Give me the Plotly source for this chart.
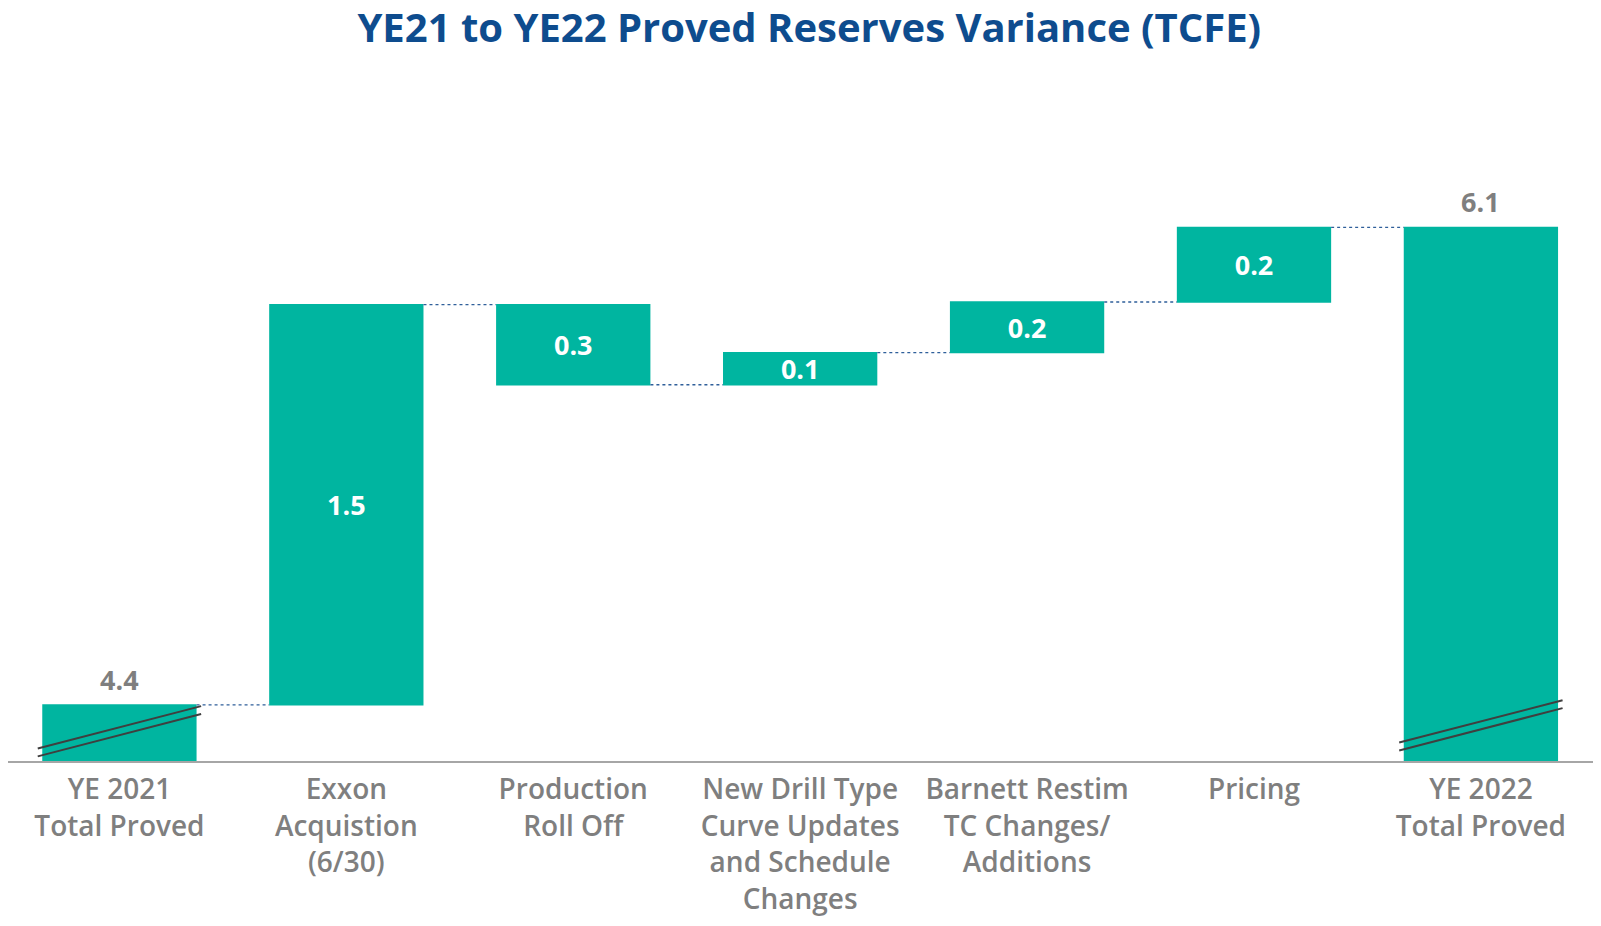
import plotly.graph_objects as go

categories = [
    "YE 2021<br>Total Proved",
    "Exxon<br>Acquistion<br>(6/30)",
    "Production<br>Roll Off",
    "New Drill Type<br>Curve Updates<br>and Schedule<br>Changes",
    "Barnett Restim<br>TC Changes/<br>Additions",
    "Pricing",
    "YE 2022<br>Total Proved",
]
measures = ["absolute", "relative", "relative", "relative", "relative", "relative", "total"]
values = [4.4, 1.50, -0.30, 0.12, 0.19, 0.28, 0]
value_labels = ["4.4", "1.5", "0.3", "0.1", "0.2", "0.2", "6.1"]

TEAL = "#00B5A0"
GRAY = "#7F7F7F"
BLUE = "#0E4C8E"
FONT = "Open Sans"

# inside labels for the changes, totals labelled above the bar via annotations
inside_text = [t if m == "relative" else "" for t, m in zip(value_labels, measures)]

fig = go.Figure()
fig.add_trace(go.Waterfall(
    x=categories,
    y=values,
    measure=measures,
    text=inside_text,
    textposition="inside",
    insidetextfont=dict(color="white", size=27, family=FONT, weight="bold"),
    constraintext="none",
    insidetextanchor="middle",
    width=0.68,
    increasing=dict(marker=dict(color=TEAL, line=dict(width=0))),
    decreasing=dict(marker=dict(color=TEAL, line=dict(width=0))),
    totals=dict(marker=dict(color=TEAL, line=dict(width=0))),
    connector=dict(mode="between", line=dict(color="#2F5F9A", width=1.3, dash="dot")),
    hoverinfo="x+y",
    showlegend=False,
))

# running totals for the total-bar labels
running = 0.0
annotations = []
for i, (m, v) in enumerate(zip(measures, values)):
    if m == "absolute":
        running = v
    elif m == "relative":
        running += v
    if m in ("absolute", "total"):
        annotations.append(dict(
            x=categories[i], y=running, xref="x", yref="y",
            text=value_labels[i], showarrow=False,
            yanchor="bottom", yshift=5,
            font=dict(family=FONT, size=27, color=GRAY, weight="bold"),
        ))

# axis-break slashes on the two total bars
def slash_pair(idx, y_lo, y_hi, gap):
    out = []
    for k in range(2):
        out.append(dict(
            type="line", xref="x", yref="y domain",
            x0=idx - 0.36, x1=idx + 0.36,
            y0=y_lo + k * gap, y1=y_hi + k * gap,
            line=dict(color="#3F3F3F", width=2),
        ))
    return out

shapes = slash_pair(0, 0.007, 0.071, 0.012) + slash_pair(len(categories) - 1, 0.016, 0.080, 0.012)

fig.update_layout(
    width=1593, height=918,
    paper_bgcolor="white", plot_bgcolor="white",
    margin=dict(l=0, r=8, t=92, b=165),
    font=dict(family=FONT, color=GRAY),
    title=dict(
        text="YE21 to YE22 Proved Reserves Variance (TCFE)",
        x=0.503, xanchor="center", y=0.978, yanchor="middle",
        font=dict(family=FONT, size=40, color=BLUE, weight="bold"),
    ),
    xaxis=dict(
        showline=True, linecolor="#A6A6A6", linewidth=1.5,
        showgrid=False, zeroline=False, ticks="",
        tickfont=dict(family=FONT, size=28, color=GRAY, weight=600),
        ticklabelstandoff=3,
        range=[-0.491, 6.494], automargin=False,
    ),
    yaxis=dict(
        range=[4.19, 6.667], showgrid=False, zeroline=False,
        showticklabels=False, showline=False, ticks="", automargin=False,
    ),
    shapes=shapes,
    annotations=annotations,
)

fig.write_html("out.html")
